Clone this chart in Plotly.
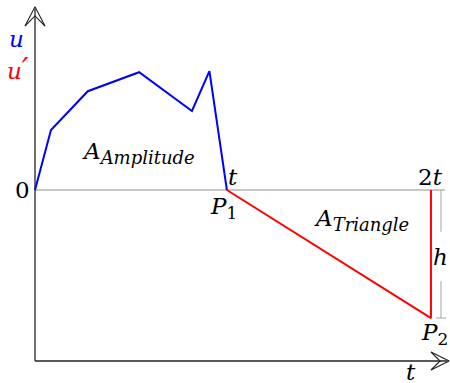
import plotly.graph_objects as go

# Amplitude curve u(t) and the triangle u'(t), in diagram units
t_amp = [0, 0.42, 1.39, 2.74, 4.13, 4.59, 5.05]
u_amp = [0, 1.58, 2.60, 3.10, 2.08, 3.13, 0]
t_tri = [5.05, 10.42, 10.42]
u_tri = [0, -3.37, 0]

# Tick positions on the time axis and their labels
tick_t = [0, 5.05, 10.42]
tick_labels = ["0", "<i>t</i>", "2<i>t</i>"]

AXIS_Y = -4.5          # height of the horizontal t axis
Y_TOP = 4.82           # tip of the vertical u axis
X_END = 10.9           # tip of the horizontal t axis
DIM_X = 10.684         # x of the dimension line for h

BLUE = "#0000ff"
RED = "#ff0000"
GRAY = "#b4b4b4"
INK = "#222222"
FONT = "DejaVu Serif"
FS = 23

fig = go.Figure()

def seg(xs, ys, color, width):
    fig.add_trace(go.Scatter(x=xs, y=ys, mode="lines",
                             line=dict(color=color, width=width),
                             hoverinfo="skip", showlegend=False))

# zero line
seg([0, 10.79], [0, 0], GRAY, 1.5)
# dimension line for h with end ticks
h_low = u_tri[1]
seg([DIM_X, DIM_X], [0, -1.1], GRAY, 1.2)
seg([DIM_X, DIM_X], [-2.4, h_low], GRAY, 1.2)
seg([10.55, 10.82], [h_low, h_low], GRAY, 1.2)

# axes
seg([0, 0], [AXIS_Y, Y_TOP - 0.05], INK, 1.3)
seg([0, X_END - 0.05], [AXIS_Y, AXIS_Y], INK, 1.3)
# open double-stroke arrow heads
seg([-0.263, 0, 0.263], [4.316, Y_TOP, 4.316], INK, 1.1)
seg([-0.263, 0, 0.263], [4.316, 4.58, 4.316], INK, 1.1)
seg([10.42, X_END, 10.42], [AXIS_Y + 0.237, AXIS_Y, AXIS_Y - 0.237], INK, 1.1)
seg([10.42, 10.66, 10.42], [AXIS_Y + 0.237, AXIS_Y, AXIS_Y - 0.237], INK, 1.1)

# curves
seg(t_amp, u_amp, BLUE, 2)
seg(t_tri, u_tri, RED, 2)

def label(x, y, text, color="black", size=FS):
    fig.add_annotation(x=x, y=y, text=text, showarrow=False,
                       xanchor="center", yanchor="middle",
                       font=dict(family=FONT, size=size, color=color, style="italic"))

def sub(text, size=18, upright=False):
    style = "font-style:normal;" if upright else ""
    return f"<sub><span style='font-size:{size}px;{style}'>{text}</span></sub>"

label(-0.5, 3.97, "u", BLUE)
label(-0.45, 3.2, "u<span style='font-size:30px'>′</span>", RED)
fig.add_annotation(x=-0.34, y=tick_t[0], text=tick_labels[0], showarrow=False,
                   font=dict(family=FONT, size=FS, color="black"))
label(tick_t[1] + 0.15, 0.35, "t")
fig.add_annotation(x=tick_t[2], y=0.35, text=tick_labels[2], showarrow=False,
                   font=dict(family=FONT, size=FS, color="black"))
label(tick_t[1] - 0.1, -0.48, "P" + sub("1", 17, True))
label(tick_t[2] + 0.08, -3.8, "P" + sub("2", 17, True))
label(2.72, 0.98, "A" + sub("Amplitude", 18))
label(8.6, -0.78, "A" + sub("Triangle", 18))
label(DIM_X, -1.75, "h")
label(9.9, -4.8, "t")

fig.update_layout(
    width=450, height=383,
    margin=dict(l=0, r=0, t=0, b=0),
    plot_bgcolor="white", paper_bgcolor="white",
    xaxis=dict(range=[-35 / 38, 415 / 38], visible=False, fixedrange=True),
    yaxis=dict(range=[-193 / 38, 190 / 38], visible=False, fixedrange=True),
)

fig.write_html("out.html")
